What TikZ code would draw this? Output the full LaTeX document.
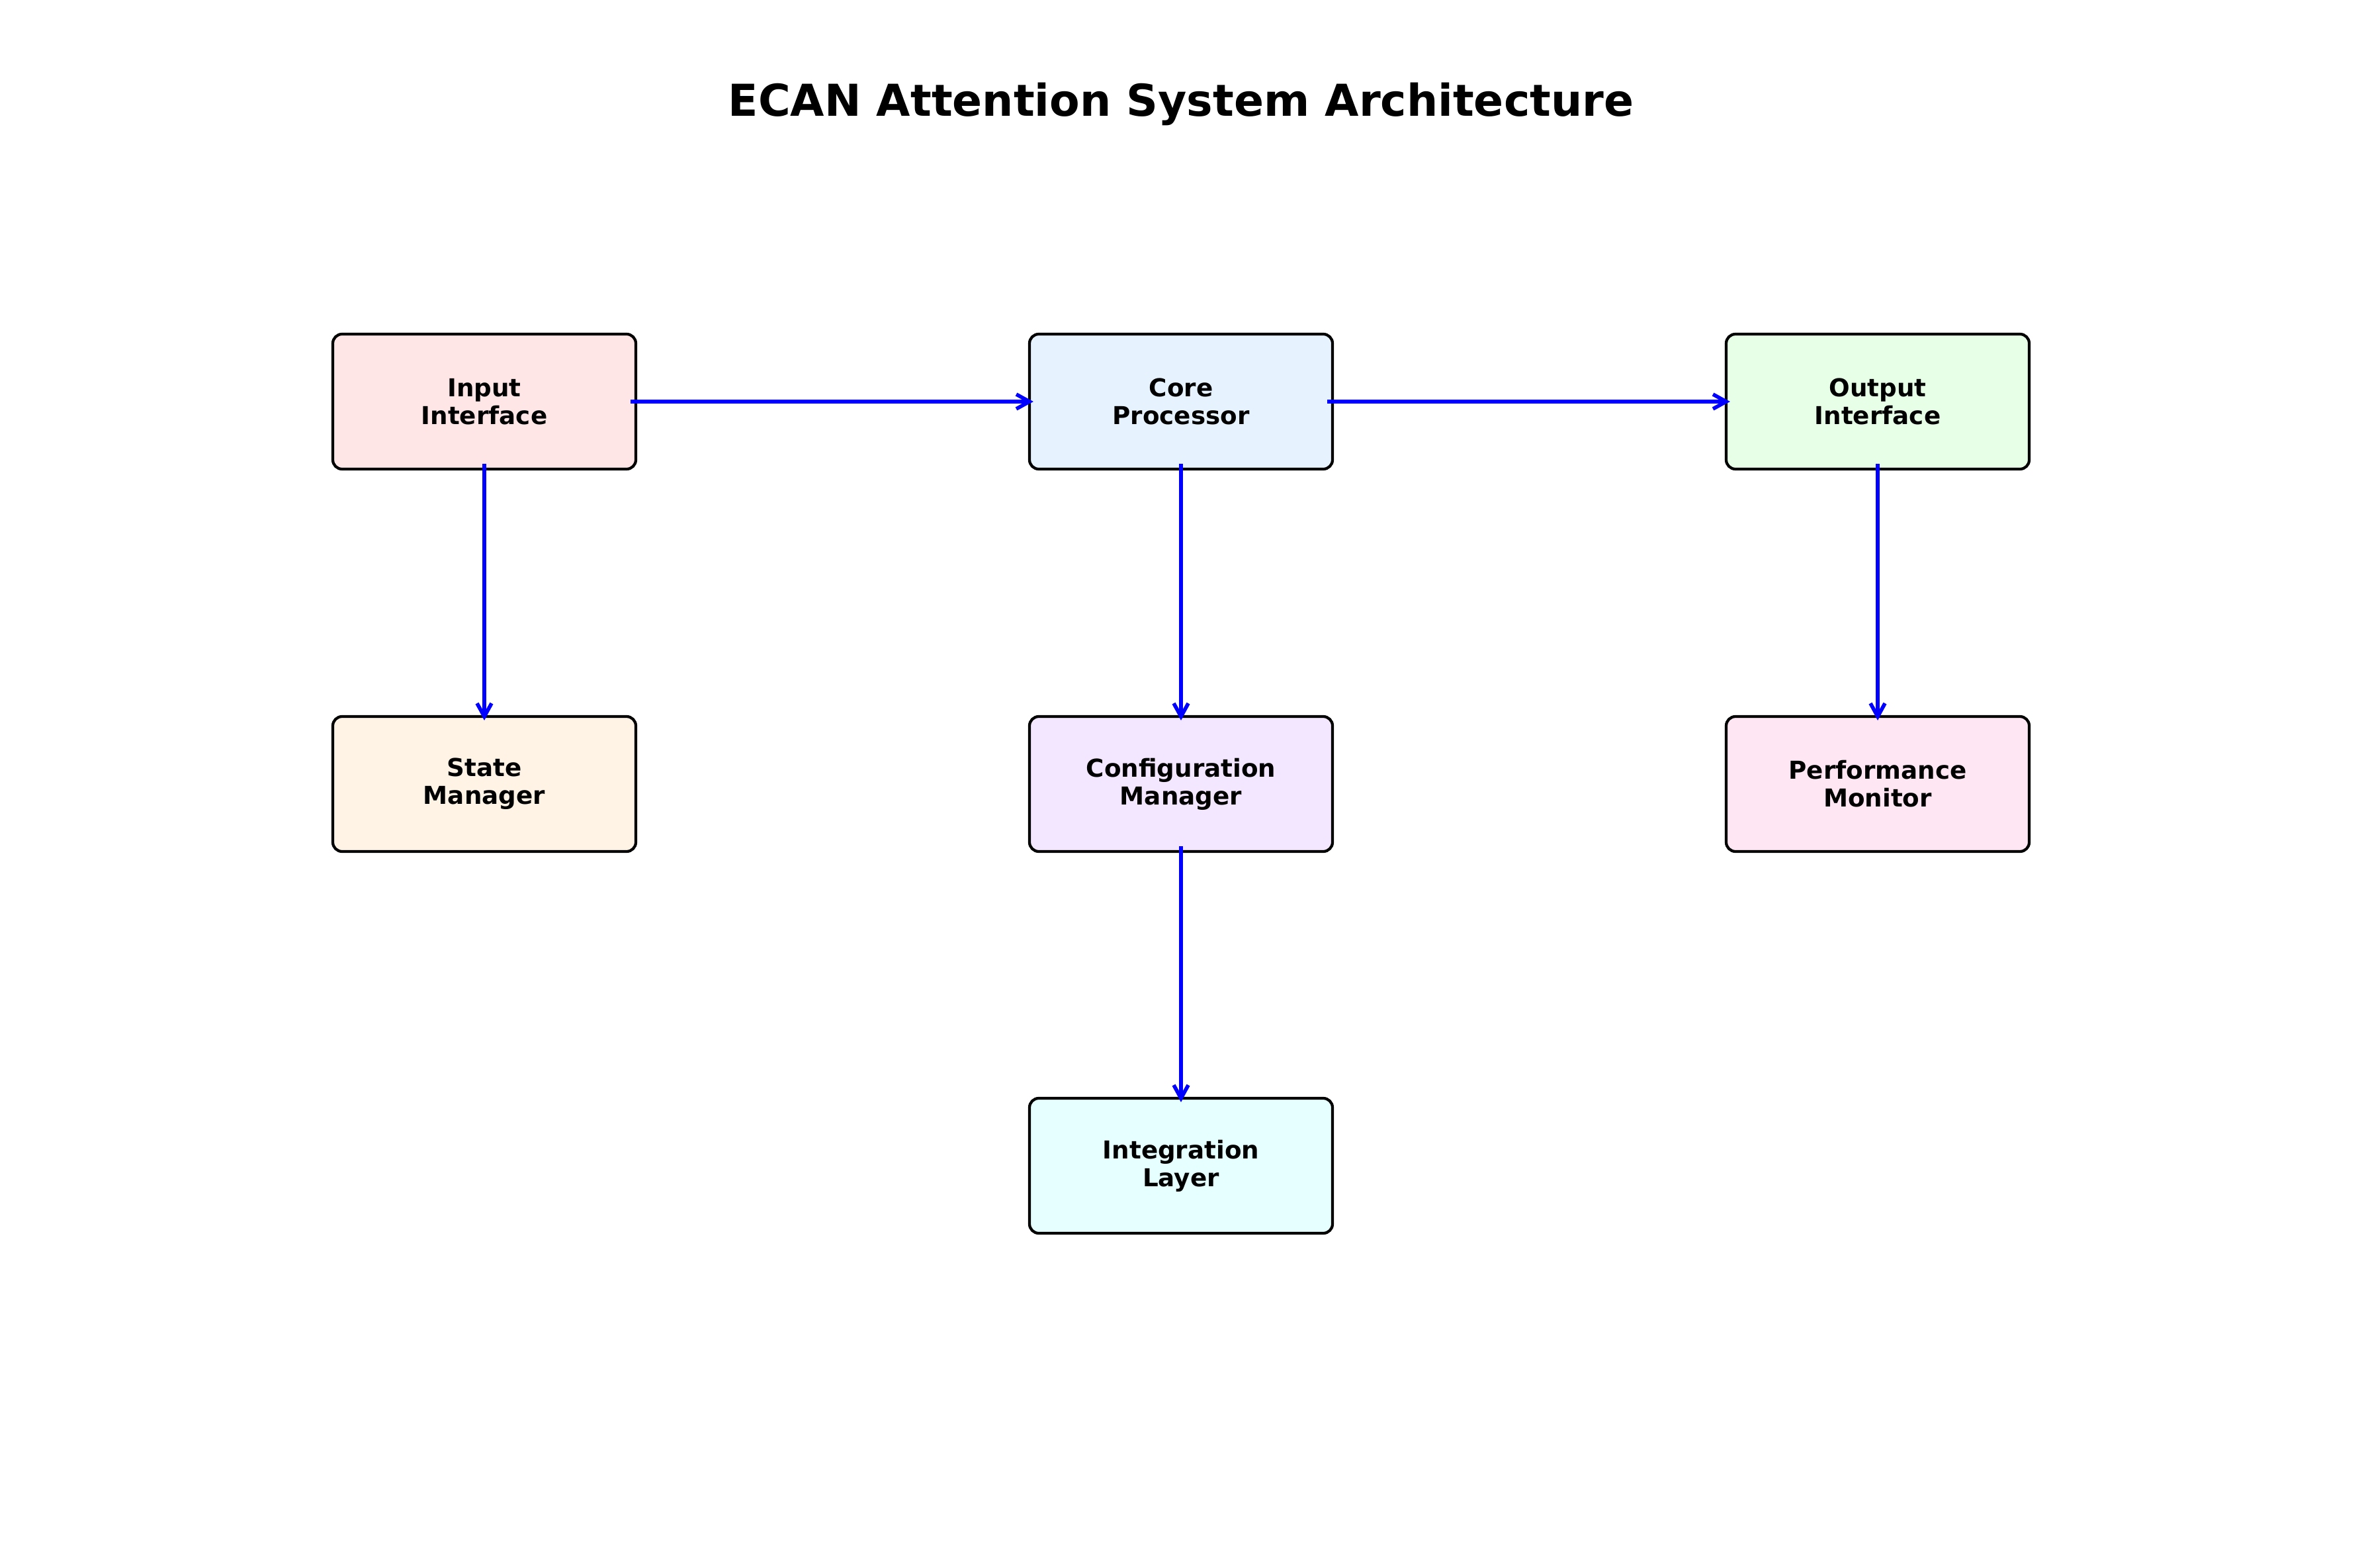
\documentclass[tikz,border=0pt]{standalone}
\usepackage{xcolor}
\usepackage{fontspec}
\setmainfont{DejaVu Sans}
\usepackage{tikz}
\usetikzlibrary{arrows.meta}

\definecolor{inpink}{HTML}{FFE6E6}
\definecolor{coreblue}{HTML}{E6F3FF}
\definecolor{outgreen}{HTML}{E6FFE6}
\definecolor{stateorange}{HTML}{FFF3E6}
\definecolor{configpurple}{HTML}{F3E6FF}
\definecolor{perfpink}{HTML}{FFE6F3}
\definecolor{integcyan}{HTML}{E6FFFF}

\tikzset{
  module/.style={draw=black, line width=1.2pt, rounded corners=0.14cm,
    minimum width=4.58cm, minimum height=2.04cm, align=center,
    font=\bfseries\fontsize{10.6}{12}\selectfont},
  flow/.style={draw=blue, line width=1.6pt, -{Straight Barb[length=0.2cm,width=0.22cm]},
    shorten <=-0.1cm, shorten >=-0.08cm}
}

\begin{document}
\begin{tikzpicture}
\useasboundingbox (0,0) rectangle (35.7,-23.7);
\node[font=\bfseries\fontsize{18.9}{23}\selectfont] (title) at (17.85,-1.57) {ECAN Attention System Architecture};

\node[module, fill=inpink] (input) at (7.32,-6.07) {Input\\Interface};
\node[module, fill=coreblue] (core) at (17.85,-6.07) {Core\\Processor};
\node[module, fill=outgreen] (output) at (28.38,-6.07) {Output\\Interface};
\node[module, fill=stateorange] (state) at (7.32,-11.85) {State\\Manager};
\node[module, fill=configpurple] (config) at (17.85,-11.85) {Configuration\\Manager};
\node[module, fill=perfpink] (perf) at (28.38,-11.85) {Performance\\Monitor};
\node[module, fill=integcyan] (integ) at (17.85,-17.62) {Integration\\Layer};

\draw[flow] (input) -- (core);
\draw[flow] (core) -- (output);
\draw[flow] (input) -- (state);
\draw[flow] (core) -- (config);
\draw[flow] (output) -- (perf);
\draw[flow] (config) -- (integ);
\end{tikzpicture}
\end{document}
